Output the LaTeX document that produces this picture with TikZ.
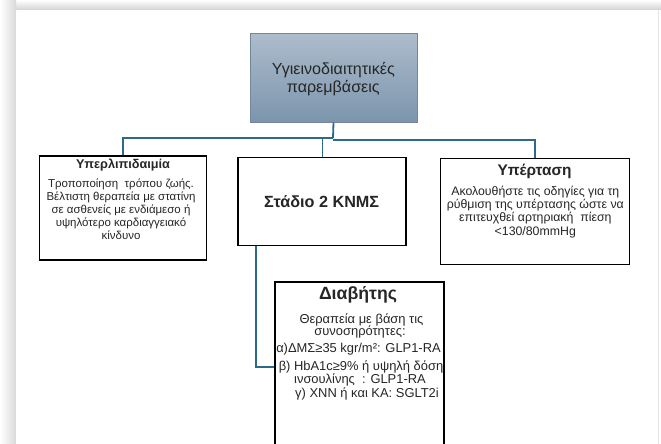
\documentclass[tikz,border=0pt]{standalone}
\usepackage{fontspec}
\setmainfont{Liberation Sans}
\definecolor{linkblue}{RGB}{46,105,140}
\definecolor{toptop}{RGB}{172,188,204}
\definecolor{topbot}{RGB}{124,149,172}
\definecolor{topedge}{RGB}{115,135,155}
\newlength\fitlen
% #1 target width (pt), #2 sample line, #3 baselineskip (pt)
\newcommand\fitto[3]{%
  \settowidth\fitlen{\fontsize{10pt}{12pt}\selectfont #2}%
  \pgfmathsetmacro\fitsize{10*#1/\fitlen}%
  \fontsize{\fitsize pt}{#3pt}\selectfont}
\tikzset{
  box/.style={draw=black, line width=1.4pt, fill=white, inner sep=0pt},
  link/.style={draw=linkblue, line width=1.8pt},
  txt/.style={align=center, inner sep=0pt, text=black!85},
}
\begin{document}
\begin{tikzpicture}[x=1pt,y=-1pt]
\useasboundingbox (0,0) rectangle (661,444);
\clip (0,0) rectangle (661,444);
% page shadow
\fill[white] (0,0) rectangle (661,444);
\shade[top color=white, bottom color=gray!35] (0,0) rectangle (661,10);
\shade[left color=white, right color=gray!30] (0,0) rectangle (16,444);
\fill[white] (16,10) rectangle (661,444);
\draw[gray!20, line width=0.8pt] (658,10) -- (658,444);

% boxes
\node[draw=topedge, line width=1pt, top color=toptop, bottom color=topbot,
      minimum width=167pt, minimum height=88pt, inner sep=0pt] (top) at (333.5,78) {};
\node[box, minimum width=167.5pt, minimum height=104pt] (lip) at (123,208) {};
\node[box, minimum width=168pt, minimum height=88pt] (stage) at (322,201.5) {};
\node[box, minimum width=189pt, minimum height=106pt] (htn) at (534.7,211.3) {};
\node[box, minimum width=169pt, minimum height=170pt] (dm) at (359.5,367) {};

% connectors
\coordinate (j) at (333,138);
\draw[link] (top.south) -- (j);
\draw[link] (j) -- (123,138) -- (lip.north);
\draw[link] (322.5,138) -- (stage.north -| 322.5,0);
\draw[link] (333,140) -| (htn.north);
\draw[link] (stage.south -| 256,0) |- (dm.west |- 0,366.7);

% texts
\node[txt, font={\fitto{123}{Υγιεινοδιαιτητικές}{18.3}}] (topt) at (333.3,79.2)
  {Υγιεινοδιαιτητικές\\παρεμβάσεις};

\node[txt, font={\bfseries\fitto{94}{Υπερλιπιδαιμία}{12}}] (lipt) at (123,165) {Υπερλιπιδαιμία};
\node[txt, font={\fitto{149}{Βέλτιστη θεραπεία με στατίνη}{12.95}}] (lipb) at (121,209.2)
  {Τροποποίηση\ \ τρόπου ζωής.\\Βέλτιστη θεραπεία με στατίνη\\σε ασθενείς με ενδιάμεσο ή\\υψηλότερο καρδιαγγειακό\\κίνδυνο};

\node[txt, font={\bfseries\fitto{115}{Στάδιο 2 ΚΝΜΣ}{16}}] (staget) at (321.7,201.7) {Στάδιο 2 ΚΝΜΣ};

\node[txt, font={\bfseries\fitto{74}{Υπέρταση}{16}}] (htnt) at (534.5,171.7) {Υπέρταση};
\node[txt, font={\fitto{177}{ρύθμιση της υπέρτασης ώστε να}{13.3}}] (htnb) at (535.3,211.7)
  {Ακολουθήστε τις οδηγίες για τη\\ρύθμιση της υπέρτασης ώστε να\\επιτευχθεί αρτηριακή\ \ πίεση\\<130/80mmHg};

\tikzset{dml/.style={txt, font={\fitto{164.5}{α)ΔΜΣ≥35 kgr/m²: GLP1-RA}{12}}}}
\node[txt, font={\bfseries\fitto{78}{Διαβήτης}{16}}] (dmt) at (358,295) {Διαβήτης};
\node[dml] (dm1) at (361.5,320) {Θεραπεία με βάση τις};
\node[dml] (dm2) at (360,332) {συνοσηρότητες:};
\node[dml] (dm3) at (358.5,349) {α)ΔΜΣ≥35 kgr/m²: GLP1-RA};
\node[dml] (dm4) at (361,367) {β) HbA1c≥9\% ή υψηλή δόση};
\node[dml] (dm5) at (360,379.5) {ινσουλίνης\ \ : GLP1-RA};
\node[dml] (dm6) at (367,394) {γ) ΧΝΝ ή και ΚΑ: SGLT2i};
\end{tikzpicture}
\end{document}
